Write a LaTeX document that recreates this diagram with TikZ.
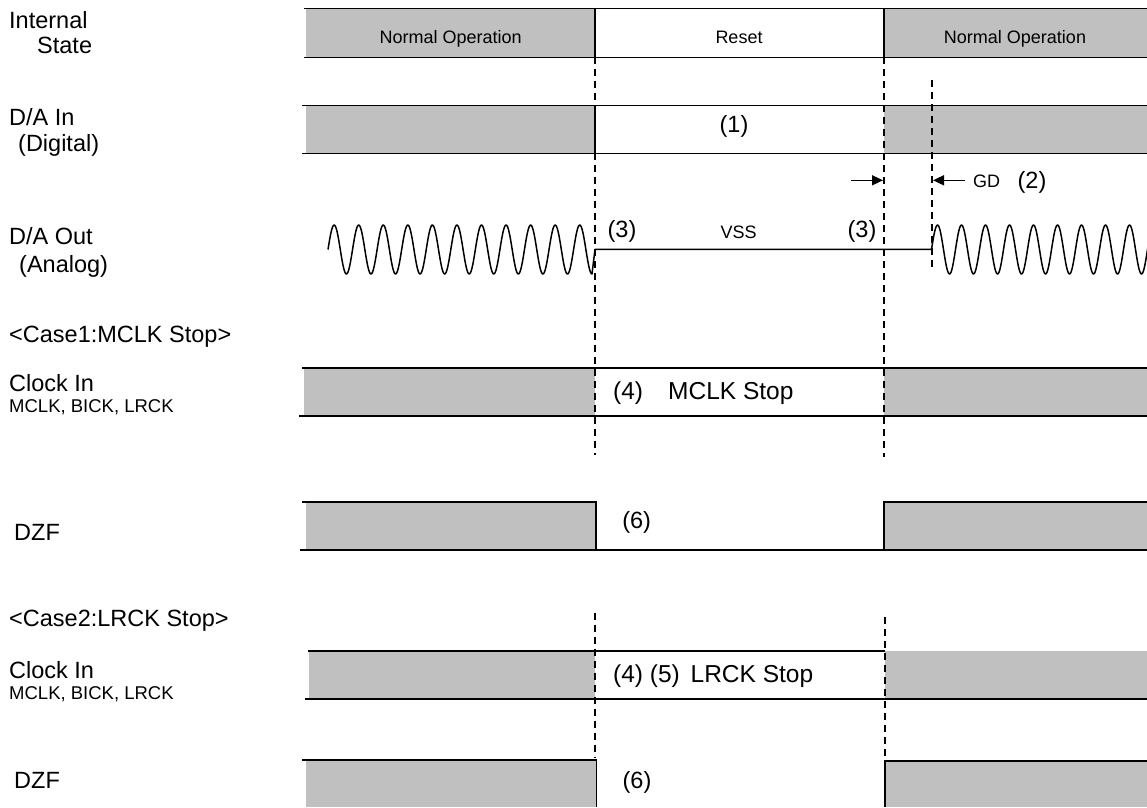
\documentclass[tikz,border=0pt]{standalone}
\usepackage{fontspec}
\setmainfont{Liberation Sans}
\usetikzlibrary{calc, positioning, arrows.meta}
\definecolor{busgray}{HTML}{C0C0C0}
\newcommand{\fsName}{\fontsize{23.5}{27}\selectfont}
\newcommand{\fsState}{\fontsize{18}{21}\selectfont}
\newcommand{\fsStop}{\fontsize{24.5}{28}\selectfont}
\newcommand{\fsPins}{\fontsize{18.5}{21}\selectfont}

\begin{document}
\begin{tikzpicture}[x=1pt, y=-1pt,
  edge/.style={line width=1.6pt},
  cut/.style={line width=2pt, dash pattern=on 7pt off 5pt},
  wave/.style={line width=1.5pt, line join=round},
  nameT/.style={anchor=west, inner sep=0pt, font=\fsName, text height=16.8pt, text depth=0pt},
  pinT/.style={anchor=west, inner sep=0pt, font=\fsPins, text height=13.2pt, text depth=0pt},
  stateT/.style={inner sep=0pt, font=\fsState, text height=12.9pt, text depth=0pt},
  stopT/.style={anchor=west, inner sep=0pt, font=\fsStop, text height=17.5pt, text depth=0pt},
  noteT/.style={inner sep=0pt, font=\fsName, text height=16.8pt, text depth=0pt}]
  \useasboundingbox (0,0) rectangle (1147,807);

  % signal names
  \node[nameT] (intl) at (9,20) {Internal};
  \node[nameT] (stat) at (37,45) {State};
  \node[nameT] (dain) at (9,117) {D/A In};
  \node[nameT] (digi) at (18,143) {(Digital)};
  \node[nameT] (daout) at (9,236) {D/A Out};
  \node[nameT] (anlg) at (19,264) {(Analog)};
  \node[nameT] (caseA) at (9,334) {<Case1:MCLK Stop>};
  \node[nameT] (clkA) at (9,383) {Clock In};
  \node[pinT] (pinsA) at (9,406) {MCLK, BICK, LRCK};
  \node[nameT] (dzfA) at (14,532) {DZF};
  \node[nameT] (caseB) at (9,618) {<Case2:LRCK Stop>};
  \node[nameT] (clkB) at (9,670) {Clock In};
  \node[pinT] (pinsB) at (9,693) {MCLK, BICK, LRCK};
  \node[nameT] (dzfB) at (14,780) {DZF};

  % internal state
  \fill[busgray] (306,8.3) rectangle (595,57.3);
  \fill[busgray] (884,8.3) rectangle (1147,57.3);
  \draw[edge] (304,8.3) -- (1147,8.3);
  \draw[edge] (304,57.3) -- (1147,57.3);
  \draw[edge] (595,8.3) -- (595,57.3);
  \draw[edge] (884,8.3) -- (884,57.3);
  \node[stateT] (norm1) at (450.6,37) {Normal Operation};
  \node[stateT] (rst) at (739,37) {Reset};
  \node[stateT] (norm2) at (1015,37) {Normal Operation};

  % D/A in
  \fill[busgray] (306,105.3) rectangle (595,153.3);
  \fill[busgray] (884,105.3) rectangle (1147,153.3);
  \draw[edge] (302,105.3) -- (1147,105.3);
  \draw[edge] (302,153.3) -- (1147,153.3);
  \draw[edge] (595,105.3) -- (595,153.3);
  \node[noteT] (n1) at (734,124) {(1)};

  % D/A out
  \draw[wave] plot[domain=328:592, samples=320] (\x, {249.5-24.5*sin(14.658*(\x-328))})
    -- (595,249.3) -- (931.5,249.3)
    -- plot[domain=931.5:1150, samples=260] (\x, {249.5-24.5*sin(15*(\x-931.5))});
  \node[noteT] (n3a) at (622,229.5) {(3)};
  \node[stateT] (vss) at (738.5,232) {VSS};
  \node[noteT] (n3b) at (862,229.5) {(3)};

  % group delay
  \coordinate (gdL) at (883,180.3);
  \coordinate (gdLt) at (851,180.3);
  \coordinate (gdR) at (933,180.3);
  \coordinate (gdRt) at (965,180.3);
  \draw[edge, -{Triangle[length=11pt, width=10pt]}] (gdLt) -- (gdL);
  \draw[edge, -{Triangle[length=11pt, width=10pt]}] (gdRt) -- (gdR);
  \node[stateT, anchor=west] (gd) at (973,181.5) {GD};
  \node[noteT] (n2) at (1032,180.5) {(2)};

  % case 1 clock
  \fill[busgray] (304,367.7) rectangle (595,415.7);
  \fill[busgray] (884,367.7) rectangle (1147,415.7);
  \draw[edge] (302,367.7) -- (1147,367.7);
  \draw[edge] (299,415.7) -- (1147,415.7);
  \node[stopT] (n4a) at (613,390.5) {(4)};
  \node[stopT] (mstop) at (668,390.5) {MCLK Stop};

  % case 1 DZF
  \fill[busgray] (306,501.7) rectangle (596,550);
  \fill[busgray] (884,501.7) rectangle (1147,550);
  \draw[edge] (302,501.7) -- (596,501.7) -- (596,550);
  \draw[edge] (884,550) -- (884,501.7) -- (1147,501.7);
  \draw[edge] (300,550) -- (1147,550);
  \node[noteT] (n6a) at (636.6,520) {(6)};

  % case 2 clock
  \fill[busgray] (309,650.7) rectangle (595,699);
  \fill[busgray] (885,650.7) rectangle (1147,699);
  \draw[edge] (308,650.7) -- (885,650.7);
  \draw[edge] (305,699) -- (1147,699);
  \node[stopT] (lstop) at (613,674) {(4)~(5)\hspace{4pt} LRCK Stop};

  % case 2 DZF
  \fill[busgray] (306,760) rectangle (596.5,807);
  \fill[busgray] (885,760.7) rectangle (1147,807);
  \draw[edge] (302,760) -- (596.5,760) -- (596.5,807);
  \draw[edge] (885,807) -- (885,760.7) -- (1147,760.7);
  \node[noteT] (n6b) at (637,780) {(6)};

  % timing marks
  \draw[cut] (595,57.3) -- (595,455);
  \draw[cut] (884,57.3) -- (884,457);
  \draw[cut] (931.5,80) -- (931.5,270);
  \draw[cut] (595,612.7) -- (595,758);
  \draw[cut] (885,617) -- (885,807);
\end{tikzpicture}
\end{document}
